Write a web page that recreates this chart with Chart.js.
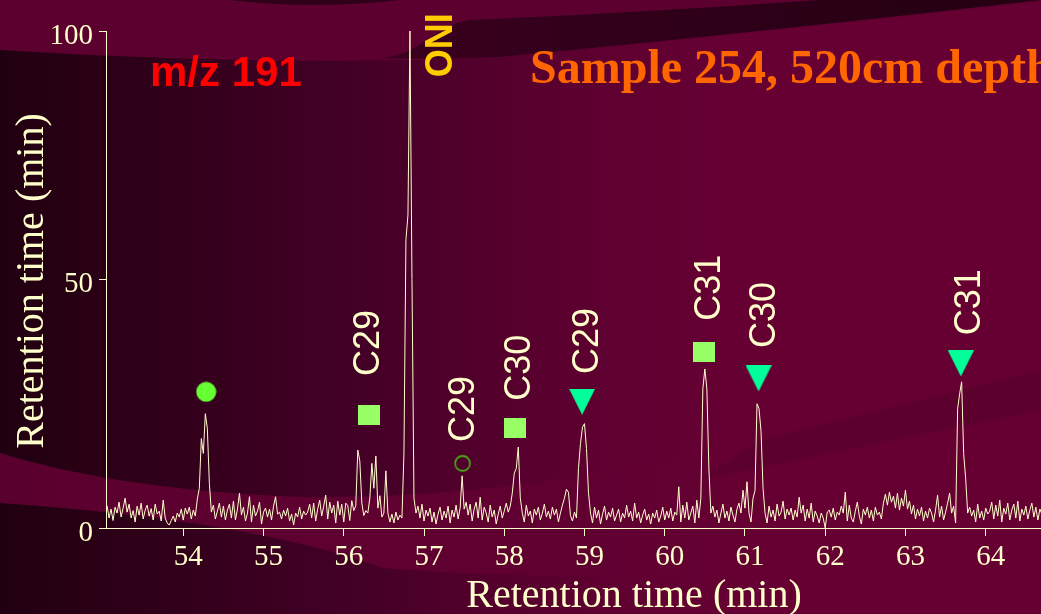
<!DOCTYPE html>
<html>
<head>
<meta charset="utf-8">
<script src="https://cdn.jsdelivr.net/npm/chart.js@4.4.0/dist/chart.umd.min.js"></script>
<style>
html,body{margin:0;padding:0;background:#3a001e;overflow:hidden}
#wrap{width:1041px;height:614px;position:relative}
</style>
</head>
<body>
<div id="wrap"><canvas id="c" width="1041" height="614"></canvas></div>
<script>
// ---- data ----
const scanStart = 53.05;   // min, first scan
const scanStep = 0.025;    // min between scans
const intensity = [
  4.5,2.0,3.8,1.5,4.2,3.0,5.2,2.2,4.0,6.0,3.2,4.8,2.0,3.5,1.2,4.4,2.6,5.0,1.8,3.6,
  4.6,2.4,3.9,1.6,4.8,2.8,3.4,1.4,5.6,2.0,1.0,0.6,1.5,2.4,1.2,3.0,2.2,3.8,1.6,4.0,
  2.8,4.2,1.8,3.6,2.4,5.8,8.0,18.0,15.0,23.0,20.0,9.0,3.2,4.6,1.8,3.4,5.0,2.2,4.4,1.6,
  3.6,4.8,2.0,5.4,1.6,3.8,7.0,2.6,4.2,1.4,3.0,6.3,1.2,4.6,2.4,3.4,5.2,0.8,3.2,4.0,
  2.2,3.8,1.6,4.4,6.3,2.8,3.2,1.8,3.6,2.4,4.0,1.4,2.8,0.6,3.0,2.2,4.2,1.8,3.4,2.6,
  3.2,4.8,2.0,5.0,1.4,3.8,5.6,2.4,4.4,6.6,1.8,5.2,3.0,4.6,1.0,5.4,2.6,4.8,1.2,5.0,
  4.5,1.5,5.5,3.5,4.5,15.7,13.5,5.0,2.5,3.5,3.0,6.0,13.0,8.0,14.5,4.0,6.5,2.2,3.0,11.5,
  3.0,1.2,2.8,1.0,3.2,1.6,2.6,2.0,15.0,58.0,63.0,100.0,50.0,6.0,3.0,4.4,2.0,4.8,1.4,3.6,
  2.4,4.0,1.2,3.2,0.8,2.8,4.2,1.6,3.4,2.0,4.4,1.0,3.6,2.2,4.6,1.8,4.0,10.5,3.8,5.2,
  2.6,4.8,1.4,3.8,5.2,2.0,6.2,1.6,4.2,3.0,1.2,4.6,2.2,3.6,0.8,2.8,4.4,2.0,3.4,5.0,
  3.2,4.4,7.0,11.0,12.0,16.3,6.0,3.0,1.2,4.6,2.4,3.4,1.0,3.8,2.6,4.2,1.6,3.0,4.8,2.2,
  3.4,1.8,4.2,2.6,3.8,1.2,3.0,4.6,6.0,7.8,7.2,2.5,1.4,3.2,2.0,12.0,17.0,20.3,21.0,16.0,
  7.0,3.0,1.0,4.2,2.0,3.6,0.8,2.8,4.4,1.6,3.2,2.2,4.0,1.4,2.6,3.8,1.2,3.0,2.0,4.6,
  2.2,3.4,1.4,5.0,2.0,3.2,1.0,2.6,3.8,1.6,2.8,0.8,3.0,2.0,3.6,1.2,2.4,4.2,1.6,3.4,
  2.0,4.0,1.4,3.2,2.6,8.3,1.2,4.6,2.0,5.2,1.6,3.0,4.4,1.0,5.6,2.0,6.0,28.0,32.0,28.0,
  12.0,3.0,4.4,2.2,3.6,1.0,3.0,4.8,2.0,3.4,1.4,4.2,2.6,1.2,3.8,5.0,3.0,7.6,4.0,9.3,
  3.0,1.2,6.0,7.5,25.0,24.0,19.5,8.0,3.0,1.0,4.4,2.2,3.6,1.4,4.8,2.4,3.2,5.4,1.8,3.8,
  2.6,4.0,1.6,3.6,2.2,6.2,3.0,4.6,1.4,3.8,2.0,5.0,1.2,3.4,2.4,1.0,3.0,2.0,0.0,3.2,
  3.6,2.2,4.0,1.6,3.2,2.6,4.4,3.0,7.2,1.4,4.6,2.0,1.2,3.4,5.2,2.4,0.8,3.8,2.6,4.2,
  2.0,3.6,1.4,4.2,2.6,3.2,1.8,5.0,6.8,4.6,7.2,5.2,6.4,4.0,7.0,3.6,6.0,4.4,7.6,3.8,
  5.4,2.8,4.6,1.8,3.8,2.4,4.2,1.4,3.4,2.0,4.0,3.0,1.2,3.6,6.6,2.2,4.4,1.6,3.2,5.0,
  7.0,3.0,4.4,1.0,24.0,27.0,29.4,15.0,10.0,3.0,4.2,2.4,3.6,1.2,4.8,2.0,3.4,1.6,4.0,2.8,
  3.4,5.2,1.8,4.6,2.4,5.6,1.2,4.0,2.8,5.0,1.6,3.6,4.8,2.0,5.4,1.4,3.8,2.6,4.4,1.8,
  3.6,5.0,2.2,4.2,1.6,3.8,2.8
];
const xTickValues = [54,55,56,57,58,59,60,61,62,63,64];
const yTickValues = [0,50,100];
const xRange = [53.037, 64.689];
const yRange = [0, 100];

const markerTimes  = [54.285, 56.32, 57.48, 58.14, 58.97, 60.49, 61.17, 63.69];
const markerValues = [27.4, 22.8, 13.0, 20.1, 25.4, 35.5, 30.1, 33.1];
const markerKinds  = ['circle','square','ring','square','triangle','square','triangle','triangle'];

const peakLabels      = ['C29','C29','C30','C29','C31','C30','C31'];
const peakLabelTimes  = [56.277, 57.46, 58.147, 59.0, 60.52, 61.21, 63.76];
const peakLabelValues = [31.0, 17.7, 26.0, 31.4, 42.1, 36.6, 39.2];
const mainPeakLabel = 'ONI';
const mainPeakLabelTime = 57.17;
const mainPeakLabelValue = 91.1;

const xTitle = 'Retention time (min)';
const yTitle = 'Retention time (min)';
const ionLabel = 'm/z 191';
const sampleLabel = 'Sample 254, 520cm depth';

// ---- build ----
const trace = intensity.map((v, i) => ({ x: scanStart + i * scanStep, y: v }));
const markers = markerTimes.map((t, i) => ({ x: t, y: markerValues[i] }));

function markerImage(kind) {
  const c = document.createElement('canvas');
  const g = c.getContext('2d');
  if (kind === 'square') {
    c.width = 22; c.height = 20; g.fillStyle = '#99FF66'; g.fillRect(0, 0, 22, 20);
  } else if (kind === 'triangle') {
    c.width = 26; c.height = 26; g.fillStyle = '#00FF99';
    g.beginPath(); g.moveTo(0, 0); g.lineTo(26, 0); g.lineTo(13, 26); g.closePath(); g.fill();
  } else if (kind === 'circle') {
    c.width = 21; c.height = 21; g.fillStyle = '#66FF33';
    g.beginPath(); g.arc(10.5, 10.5, 10, 0, Math.PI * 2); g.fill();
  } else {
    c.width = 18; c.height = 18; g.strokeStyle = '#44DD11'; g.lineWidth = 1.3;
    g.beginPath(); g.arc(9, 9, 7.5, 0, Math.PI * 2); g.stroke();
  }
  return c;
}
const markerImgs = markerKinds.map(markerImage);

const CREAM = '#FFFFCC';

const bgPlugin = {
  id: 'bg',
  beforeDraw(chart) {
    const c = chart.ctx, W = chart.width, H = chart.height;
    c.save();
    const g = c.createLinearGradient(0, 0, W, 0);
    g.addColorStop(0, '#200010');
    g.addColorStop(0.1, '#2b0016');
    g.addColorStop(0.34, '#430026');
    g.addColorStop(0.42, '#4e002a');
    g.addColorStop(0.53, '#5a002f');
    g.addColorStop(0.63, '#620032');
    g.addColorStop(0.72, '#660033');
    g.addColorStop(1, '#660033');
    c.fillStyle = g;
    c.fillRect(0, 0, W, H);
    // top lighter band
    c.fillStyle = '#5c0030';
    c.beginPath();
    c.moveTo(0, 0); c.lineTo(W, 0); c.lineTo(W, 2);
    c.quadraticCurveTo(780, 30, 500, 58);
    c.quadraticCurveTo(250, 66, 0, 50);
    c.closePath(); c.fill();
    // dark sliver at top
    c.fillStyle = '#300019';
    c.beginPath(); c.moveTo(230, 0); c.quadraticCurveTo(310, 10, 400, 0); c.closePath(); c.fill();
    // dark swoosh
    const sg = c.createLinearGradient(380, 0, W, 0);
    sg.addColorStop(0, '#3a001f'); sg.addColorStop(0.4, '#300019'); sg.addColorStop(1, '#240011');
    c.fillStyle = sg;
    c.beginPath();
    c.moveTo(380, 58);
    c.bezierCurveTo(420, 56, 440, 22, 470, 20);
    c.quadraticCurveTo(650, 12, 820, 0);
    c.lineTo(W, 0);
    c.quadraticCurveTo(780, 30, 500, 57);
    c.quadraticCurveTo(440, 60, 380, 58);
    c.closePath(); c.fill();
    // bottom-left lighter band
    const bgb = c.createLinearGradient(0, 0, 700, 0);
    bgb.addColorStop(0, '#5a002e'); bgb.addColorStop(0.7, '#600031'); bgb.addColorStop(1, 'rgba(102,0,51,0)');
    c.fillStyle = bgb;
    c.beginPath();
    c.moveTo(0, 453);
    c.quadraticCurveTo(120, 490, 300, 497);
    c.quadraticCurveTo(480, 500, 700, 455);
    c.lineTo(700, 575);
    c.quadraticCurveTo(500, 578, 383, 568);
    c.quadraticCurveTo(250, 520, 0, 503);
    c.closePath(); c.fill();
    // subtle darker stripe at right
    c.fillStyle = 'rgba(40,0,20,0.15)';
    c.beginPath();
    c.moveTo(700, 480); c.lineTo(W, 410); c.lineTo(W, 370); c.lineTo(760, 440);
    c.closePath(); c.fill();
    c.restore();
  }
};

function drawRotated(c, text, cx, yBottom, font, color, capH, stretch) {
  c.save();
  c.font = font; c.fillStyle = color;
  c.textAlign = 'left'; c.textBaseline = 'alphabetic';
  c.translate(cx + capH / 2, yBottom);
  c.rotate(-Math.PI / 2);
  c.scale(1, stretch);
  c.fillText(text, 0, 0);
  c.restore();
}

const textPlugin = {
  id: 'texts',
  afterDraw(chart) {
    const c = chart.ctx;
    const xs = chart.scales.x, ys = chart.scales.y;
    peakLabels.forEach((t, i) => {
      drawRotated(c, t, xs.getPixelForValue(peakLabelTimes[i]), ys.getPixelForValue(peakLabelValues[i]) + 2,
        '36px "Liberation Sans", Arial, sans-serif', CREAM, 27, 1.05);
    });
    drawRotated(c, mainPeakLabel, xs.getPixelForValue(mainPeakLabelTime), ys.getPixelForValue(mainPeakLabelValue) + 2,
      'bold 36px "Liberation Sans", Arial, sans-serif', '#FFCC00', 28, 1.08);
    c.save();
    c.font = 'bold 42px "Liberation Sans", Arial, sans-serif';
    c.fillStyle = '#FF0000'; c.textAlign = 'left'; c.textBaseline = 'alphabetic';
    c.fillText(ionLabel, 150, 86);
    c.font = 'bold 48px "Liberation Serif", "Times New Roman", serif';
    c.fillStyle = '#FF6600';
    c.fillText(sampleLabel, 530, 83);
    c.font = '40px "Liberation Serif", "Times New Roman", serif';
    c.fillStyle = CREAM; c.textAlign = 'center';
    c.fillText(xTitle, 634, 607);
    c.translate(43, 281); c.rotate(-Math.PI / 2);
    c.fillText(yTitle, 0, 0);
    c.restore();
  }
};

new Chart(document.getElementById('c').getContext('2d'), {
  type: 'line',
  data: {
    datasets: [
      { type: 'line', data: trace, borderColor: CREAM, borderWidth: 1, pointRadius: 0, tension: 0, clip: false, order: 2 },
      { type: 'scatter', data: markers, pointStyle: markerImgs, pointRadius: 10, clip: false, order: 1 }
    ]
  },
  options: {
    responsive: false, animation: false, devicePixelRatio: 1, events: [],
    layout: { autoPadding: false, padding: { top: 31, right: 0, bottom: 0, left: 0 } },
    plugins: { legend: { display: false }, tooltip: { enabled: false } },
    scales: {
      x: {
        type: 'linear', min: xRange[0], max: xRange[1],
        afterBuildTicks: s => { s.ticks = xTickValues.map(v => ({ value: v })); },
        afterFit: s => { s.height = 86; },
        grid: { drawOnChartArea: false, drawTicks: true, tickLength: 8, color: CREAM, lineWidth: 1 },
        border: { display: true, color: CREAM, width: 1 },
        ticks: { color: CREAM, font: { family: '"Liberation Serif", "Times New Roman", serif', size: 29 },
          padding: 4, labelOffset: 5, maxRotation: 0, autoSkip: false }
      },
      y: {
        type: 'linear', min: yRange[0], max: yRange[1],
        afterBuildTicks: s => { s.ticks = yTickValues.map(v => ({ value: v })); },
        afterFit: s => { s.width = 106; },
        grid: { drawOnChartArea: false, drawTicks: true, tickLength: 7, color: CREAM, lineWidth: 1 },
        border: { display: true, color: CREAM, width: 1 },
        ticks: { color: CREAM, font: { family: '"Liberation Serif", "Times New Roman", serif', size: 29 },
          padding: 6, labelOffset: 5, autoSkip: false }
      }
    }
  },
  plugins: [bgPlugin, textPlugin]
});
</script>
</body>
</html>
